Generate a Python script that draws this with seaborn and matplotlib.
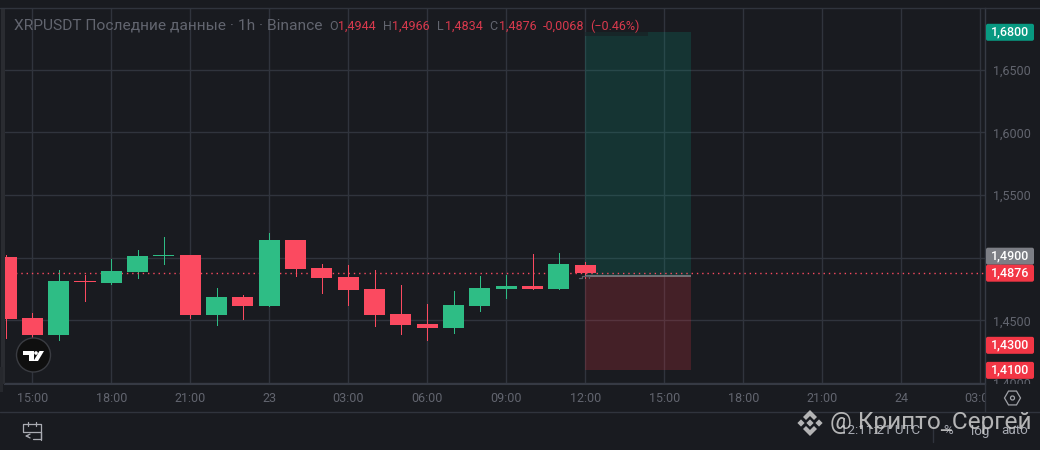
import numpy as np
import pandas as pd
import matplotlib
matplotlib.use("Agg")
import matplotlib.pyplot as plt
from matplotlib.patches import Rectangle, FancyBboxPatch, Circle, Polygon, RegularPolygon
from matplotlib.transforms import Bbox
import seaborn as sns

# ---------- data ----------
hours = list(range(-1, 22))
opens  = [1.5005,1.4519,1.4383,1.4815,1.4798,1.4886,1.5015,1.5021,1.4543,1.4686,1.4614,1.5141,1.4918,1.4846,1.4750,1.4551,1.4471,1.4439,1.4614,1.4750,1.4774,1.4750,1.4944]
highs  = [1.5021,1.4559,1.4902,1.4862,1.4989,1.5061,1.5165,1.5021,1.4758,1.4702,1.5197,1.5141,1.4950,1.4942,1.4902,1.4782,1.4630,1.4734,1.4854,1.4862,1.5029,1.5037,1.4966]
lows   = [1.4359,1.4359,1.4343,1.4654,1.4787,1.4838,1.4950,1.4519,1.4463,1.4511,1.4614,1.4854,1.4718,1.4622,1.4455,1.4391,1.4343,1.4399,1.4574,1.4678,1.4750,1.4750,1.4834]
closes = [1.4511,1.4383,1.4814,1.4807,1.4894,1.5013,1.5025,1.4543,1.4686,1.4614,1.5141,1.4910,1.4838,1.4742,1.4543,1.4463,1.4439,1.4622,1.4758,1.4770,1.4750,1.4950,1.4876]

last_price = 1.4876
target_price = 1.68
entry_price = 1.4851
stop_price = 1.41
position_start, position_end = 21, 25

x_ticks = [0, 3, 6, 9, 12, 15, 18, 21, 24, 27, 30, 33, 36]
x_labels = ["15:00", "18:00", "21:00", "23", "03:00", "06:00", "09:00", "12:00", "15:00", "18:00", "21:00", "24", "03:00"]
y_ticks = [1.40, 1.45, 1.50, 1.55, 1.60, 1.65]
y_labels = ["1,4000", "1,4500", "1,5000", "1,5500", "1,6000", "1,6500"]

# value, text, colour, label shift in px (up)
price_labels = [
    (1.68, "1,6800", "#089981", 0),
    (1.49, "1,4900", "#7c7e85", 14),
    (1.4876, "1,4876", "#f23645", 0),
    (1.43, "1,4300", "#f23645", 0),
    (1.41, "1,4100", "#f23645", 0),
]
ohlc_texts = [
    (329, "O", "G"), (338, "1,4944", "R"), (383, "H", "G"), (392, "1,4966", "R"),
    (437, "L", "G"), (445, "1,4834", "R"), (489, "C", "G"), (499, "1,4876", "R"),
    (543, "-0,0068", "R"), (590, "(−0.46%)", "R"),
]

BG = "#191b20"
GRID = "#30343d"
AXISLINE = "#363a44"
GREEN = "#2ebd85"
RED = "#fb4a60"
MUTED = "#62656f"

sns.set_theme(style="dark", rc={"figure.facecolor": BG, "axes.facecolor": BG,
                                "savefig.facecolor": BG})
plt.rcParams["font.family"] = ["Roboto", "DejaVu Sans"]

df = pd.DataFrame({"hour": hours, "open": opens, "high": highs, "low": lows, "close": closes})
df["top"] = df[["open", "close"]].max(axis=1)
df["bottom"] = df[["open", "close"]].min(axis=1)
df["height"] = df["top"] - df["bottom"]
df["up"] = df["close"] >= df["open"]

fig = plt.figure(figsize=(10.4, 4.5), dpi=100)
ax = fig.add_axes([5 / 1040, 66 / 450, 980 / 1040, 376 / 450])
px = fig.add_axes([0, 0, 1, 1], zorder=5)
px.set_xlim(0, 1040)
px.set_ylim(450, 0)
px.axis("off")
px.patch.set_alpha(0)

# candles
for is_up, colour in [(True, GREEN), (False, RED)]:
    sub = df[df["up"] == is_up]
    ax.vlines(sub["hour"], sub["low"], sub["high"], color=colour, lw=0.6, zorder=3, antialiased=False)
    sns.barplot(data=sub, x="hour", y="height", bottom=sub["bottom"].to_numpy(), color=colour,
                native_scale=True, width=0.8, errorbar=None, saturation=1, linewidth=0,
                ax=ax, zorder=4)

# long / short position
ax.fill_between([position_start, position_end], entry_price, target_price,
                color="#089981", alpha=0.2, lw=0, zorder=2)
ax.fill_between([position_start, position_end], stop_price, entry_price,
                color="#f23645", alpha=0.2, lw=0, zorder=2)
ax.hlines(entry_price, position_start, position_end, color="#85888c", lw=1.1, zorder=3)

# last price
ax.axhline(last_price, color=RED, lw=1.0, ls=(0, (1, 2.8)), zorder=3.5)

ax.set_xlim(-1.037, 36.18)
ax.set_ylim(1.3991, 1.6994)
ax.set_xticks(x_ticks)
ax.set_xticklabels(x_labels)
ax.set_yticks(y_ticks)
ax.set_yticklabels(y_labels)
ax.yaxis.tick_right()
ax.set_xlabel("")
ax.set_ylabel("")
ax.set_axisbelow(True)
ax.grid(True, color=GRID, lw=1)
ax.tick_params(axis="x", length=0, pad=6, labelsize=9, labelcolor=MUTED)
ax.tick_params(axis="y", length=0, pad=6, labelsize=9, labelcolor=MUTED)
for side in ["left", "top"]:
    ax.spines[side].set_visible(False)
ax.spines["bottom"].set_color(AXISLINE)
ax.spines["bottom"].set_linewidth(1.5)
ax.spines["right"].set_color(AXISLINE)
ax.spines["right"].set_linewidth(1)

for lab in ax.get_xticklabels():
    lab.set_clip_box(Bbox([[0, 0], [985, 450]]))
    lab.set_clip_on(True)
for lab in ax.get_yticklabels():
    lab.set_clip_box(Bbox([[986, 66], [1040, 450]]))
    lab.set_clip_on(True)
    lab.set_ha("left")

# frame lines and left strip
px.add_patch(Rectangle((1, 8), 4, 376, color="#2a2c31", lw=0, zorder=1))
px.add_patch(Rectangle((0, 367), 3, 25, color="#26282d", lw=0, zorder=1))
px.plot([0, 1040], [8, 8], color=GRID, lw=1)
px.plot([0, 1040], [412, 412], color=GRID, lw=1)
px.plot([985, 985], [384, 412], color=GRID, lw=1)

# header shadow over the top of the position box
px.add_patch(Rectangle((585, 32), 63, 4, fc=BG, ec="none", alpha=0.55, zorder=1))
# small cursor marks at the entry line
px.plot([579, 582, 582, 585], [278, 278, 276, 276], color="#5c5f66", lw=0.9)
px.plot([586, 589, 589], [275.5, 275.5, 278], color="#5c5f66", lw=0.9)

# price labels on the scale
for value, text, colour, shift in price_labels:
    y = 450 - ax.transData.transform((0, value))[1] - shift
    px.add_patch(FancyBboxPatch((986, y - 8.5), 48, 17, boxstyle="round,pad=0,rounding_size=2",
                                fc=colour, ec="none", zorder=3))
    px.text(1010, y, text, color="white", fontsize=9, fontweight="medium",
            ha="center", va="center", zorder=4)

# header
px.text(14, 26, "XRPUSDT Последние данные · 1h · Binance", color=MUTED, fontsize=11.15,
        ha="left", va="center")
for x, text, kind in ohlc_texts:
    px.text(x, 26, text, color="#d8394d" if kind == "R" else MUTED, fontsize=9,
            ha="left", va="center")

# TradingView badge
px.add_patch(Circle((33.5, 355), 17, fc="#0f0f0f", ec="#3a3c42", lw=1, zorder=3))
for pts in [
    [(23, 351), (33.5, 351), (33.5, 361), (28.5, 361), (28.5, 355), (23, 355)],
    [(39.5, 351), (44, 351), (38, 361), (33.5, 361)],
]:
    px.add_patch(Polygon(pts, fc="white", ec="none", zorder=4))
px.add_patch(Circle((36, 353), 1.8, fc="white", ec="none", zorder=4))

# calendar icon
px.plot([41, 41, 23, 23, 41], [440, 424, 424, 432, 432], color="#a9abb2", lw=0.9)
px.plot([41, 41, 33], [432, 439, 439], color="#a9abb2", lw=0.9)
px.plot([28, 28], [422, 426], color="#a9abb2", lw=0.9)
px.plot([36, 36], [422, 426], color="#a9abb2", lw=0.9)
px.annotate("", xy=(22, 436), xytext=(31, 436),
            arrowprops=dict(arrowstyle="->", color="#a9abb2", lw=0.9, mutation_scale=7))

# settings icon
px.add_patch(RegularPolygon((1012.5, 398), 6, radius=8, orientation=np.pi / 2, fc="none", ec="#a0a2a8", lw=0.9))
px.add_patch(Circle((1012.5, 398), 2, fc="none", ec="#a0a2a8", lw=0.9))

# footer
px.text(840, 431, "12:11:21 UTC", color="#a8abb3", fontsize=9.6, ha="left", va="center")
px.plot([933, 933], [425, 442], color=GRID, lw=1)
px.text(948, 431, "%", color="#a8abb3", fontsize=9.6, ha="center", va="center")
px.text(980, 431, "log", color="#a8abb3", fontsize=9.6, ha="center", va="center")
px.text(1015, 431, "auto", color="#a8abb3", fontsize=9.6, ha="center", va="center")

# watermark
px.text(830, 423, "@ Крипто_Сергей", color="#d0d0d0", alpha=0.85, fontsize=17.6,
        ha="left", va="center", zorder=6)
wm = dict(fc="#d0d0d0", ec="none", alpha=0.85, zorder=6)
for cx, cy in [(801, 423), (810, 423), (819, 423)]:
    px.add_patch(RegularPolygon((cx, cy), 4, radius=3.6, **wm))
px.add_patch(Polygon([(810, 410), (817, 417), (814, 420), (810, 416), (806, 420), (803, 417)], **wm))
px.add_patch(Polygon([(810, 436), (817, 429), (814, 426), (810, 430), (806, 426), (803, 429)], **wm))

fig.savefig("out.png", dpi=100)
